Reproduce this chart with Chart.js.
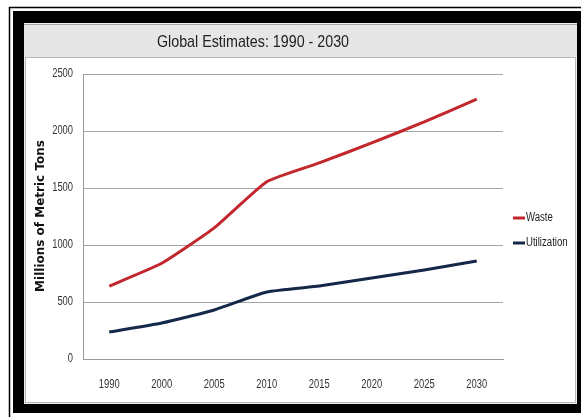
<!DOCTYPE html>
<html>
<head>
<meta charset="utf-8">
<script src="https://cdn.jsdelivr.net/npm/chart.js@4.4.1/dist/chart.umd.min.js"></script>
<style>
  html, body { margin: 0; padding: 0; background: #fff; }
  canvas { display: block; }
</style>
</head>
<body>
<canvas id="myChart" width="581" height="417"></canvas>
<script>
// global estimates, millions of metric tons
const years = ['1990', '2000', '2005', '2010', '2015', '2020', '2025', '2030'];
const waste = [640, 840, 1150, 1555, 1720, 1895, 2080, 2280];
const utilization = [237, 316, 430, 588, 640, 710, 780, 860];
const yTicks = [0, 500, 1000, 1500, 2000, 2500];

const titleText = 'Global Estimates: 1990 - 2030';
const sans = "'Liberation Sans', Arial, sans-serif";

// text squeezed sideways to get a condensed face
function narrowText(c, text, x, y, squeeze, align) {
  c.save();
  c.translate(x, y);
  c.scale(squeeze, 1);
  c.textAlign = align;
  c.fillText(text, 0, 0);
  c.restore();
}

// black picture frame, grey title bar and white plot panel
const framePlugin = {
  id: 'frame',
  beforeDraw(chart) {
    const c = chart.ctx;
    c.save();
    c.fillStyle = '#fff';
    c.fillRect(0, 0, 581, 417);

    c.strokeStyle = '#000';
    c.lineWidth = 1.5;
    c.beginPath();
    c.moveTo(9.5, 417);
    c.lineTo(9.5, 7.5);
    c.lineTo(581, 7.5);
    c.stroke();

    c.fillStyle = '#000';
    c.fillRect(13, 11, 581 - 13, 413 - 11);

    c.fillStyle = '#efefef';
    c.fillRect(24, 23, 553, 381);
    c.fillStyle = '#e6e6e6';
    c.fillRect(24, 24, 553, 33);
    c.strokeStyle = '#a8a8a8';
    c.lineWidth = 1;
    c.beginPath();
    c.moveTo(24, 24.5); c.lineTo(577, 24.5);
    c.stroke();

    c.fillStyle = '#fff';
    c.fillRect(26, 58, 549, 344);
    c.strokeStyle = '#b8b8b8';
    c.strokeRect(25.5, 57.5, 550, 345);

    c.fillStyle = '#222';
    c.font = '17px ' + sans;
    c.textBaseline = 'middle';
    narrowText(c, titleText, 253, 42, 0.84, 'center');

    // axis title
    c.save();
    c.translate(41, 216);
    c.rotate(-Math.PI / 2);
    c.textAlign = 'center';
    c.font = "bold 12px 'DejaVu Sans', Verdana, sans-serif";
    c.fillStyle = '#111';
    c.fillText('Millions of Metric Tons', 0, 0);
    c.restore();
    c.restore();
  },
  afterDraw(chart) {
    const c = chart.ctx;
    const xs = chart.scales.x;
    const ys = chart.scales.y;
    c.save();
    c.fillStyle = '#333';
    c.textBaseline = 'middle';
    c.font = '12px ' + sans;

    // tick labels from the scales
    ys.ticks.forEach((t, i) => {
      narrowText(c, String(t.value), 73, ys.getPixelForTick(i), 0.78, 'right');
    });
    xs.ticks.forEach((t, i) => {
      narrowText(c, xs.getLabelForValue(t.value), xs.getPixelForTick(i), 385, 0.78, 'center');
    });

    // legend on the right, one short line per series
    c.font = '12px ' + sans;
    chart.data.datasets.forEach((ds, i) => {
      const y = 218 + i * 25;
      c.strokeStyle = ds.borderColor;
      c.lineWidth = 3;
      c.beginPath();
      c.moveTo(513, y);
      c.lineTo(525, y);
      c.stroke();
      c.fillStyle = '#222';
      narrowText(c, ds.label, 526, y, 0.8, 'left');
    });
    c.restore();
  }
};

const ctx = document.getElementById('myChart');

new Chart(ctx, {
  type: 'line',
  data: {
    labels: years,
    datasets: [{
      label: 'Waste',
      data: waste,
      borderColor: '#c1272d',
      borderWidth: 3,
      pointRadius: 0,
      tension: 0.15
    }, {
      label: 'Utilization',
      data: utilization,
      borderColor: '#14284a',
      borderWidth: 3,
      pointRadius: 0,
      tension: 0.15
    }]
  },
  options: {
    responsive: false,
    animation: false,
    layout: { padding: { top: 74, right: 78, left: 0, bottom: 0 } },
    plugins: {
      legend: { display: false },
      title: { display: false },
      tooltip: { enabled: false }
    },
    scales: {
      x: {
        offset: true,
        grid: { display: false, drawTicks: false },
        border: { color: '#999', width: 1 },
        ticks: { display: false },
        afterFit: (s) => { s.height = 58; }
      },
      y: {
        min: 0,
        max: 2500,
        afterBuildTicks: (s) => { s.ticks = yTicks.map(v => ({ value: v })); },
        grid: { color: '#a6a6a6', drawTicks: false },
        border: { color: '#999', width: 1 },
        ticks: { display: false },
        afterFit: (s) => { s.width = 83; }
      }
    }
  },
  plugins: [framePlugin]
});
</script>
</body>
</html>
